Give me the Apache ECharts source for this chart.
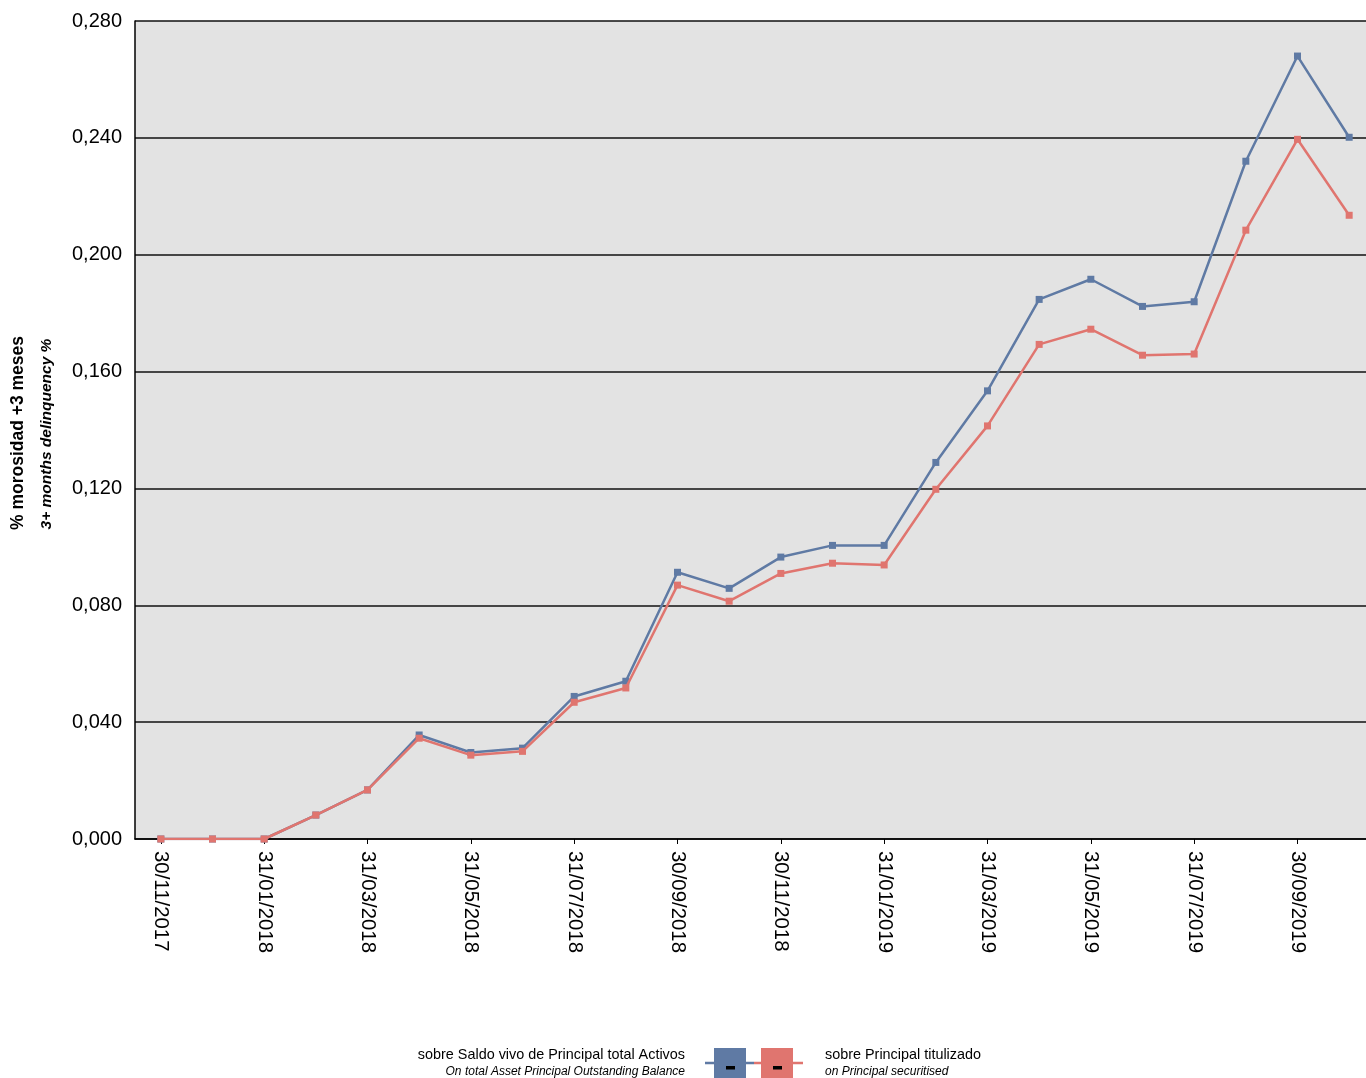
<!DOCTYPE html>
<html>
<head>
<meta charset="utf-8">
<script src="https://cdn.jsdelivr.net/npm/echarts@6/dist/echarts.min.js"></script>
<style>
html,body{margin:0;padding:0;background:#fff;overflow:hidden;}
#chart{width:1380px;height:1078px;}
</style>
</head>
<body>
<div id="chart"></div>
<script>
const categories = ['30/11/2017','31/12/2017','31/01/2018','28/02/2018','31/03/2018','30/04/2018','31/05/2018','30/06/2018','31/07/2018','31/08/2018','30/09/2018','31/10/2018','30/11/2018','31/12/2018','31/01/2019','28/02/2019','31/03/2019','30/04/2019','31/05/2019','30/06/2019','31/07/2019','31/08/2019','30/09/2019','31/10/2019'];
const totalActivos = [0,0,0,0.0082,0.0168,0.0356,0.0296,0.0311,0.0488,0.0540,0.0913,0.0858,0.0965,0.1005,0.1005,0.1289,0.1534,0.1847,0.1916,0.1823,0.1839,0.2320,0.2680,0.2402];
const titulizado = [0,0,0,0.0082,0.0168,0.0345,0.0287,0.0300,0.0468,0.0517,0.0869,0.0814,0.0909,0.0944,0.0938,0.1197,0.1414,0.1693,0.1745,0.1656,0.1660,0.2084,0.2395,0.2135];
const seriesNames = ['sobre Saldo vivo de Principal total Activos','sobre Principal titulizado'];
const seriesNamesEn = ['On total Asset Principal Outstanding Balance','on Principal securitised'];
const yTitle = '% morosidad +3 meses';
const yTitleEn = '3+ months delinquency %';

const BLUE = '#5f7aa4';
const RED = '#e0756f';
const FONT = '"Liberation Sans", Arial, sans-serif';

const chart = echarts.init(document.getElementById('chart'));
chart.setOption({
  animation: false,
  grid: {
    left: 135, top: 21, width: 1240, height: 818,
    show: true, backgroundColor: '#e3e3e3', borderWidth: 0
  },
  xAxis: {
    type: 'category',
    data: categories,
    boundaryGap: true,
    axisLine: { show: true, lineStyle: { color: '#000', width: 1.5 } },
    axisTick: { show: true, interval: 1, alignWithLabel: true, length: 5, lineStyle: { color: '#000', width: 1 } },
    axisLabel: { interval: 1, rotate: -90, margin: 12, color: '#000', fontSize: 20.4, fontFamily: FONT },
    splitLine: { show: false }
  },
  yAxis: {
    type: 'value',
    min: 0, max: 0.28, interval: 0.04,
    axisLine: { show: true, lineStyle: { color: '#000', width: 1.5 } },
    axisTick: { show: false },
    axisLabel: {
      margin: 13, color: '#000', fontSize: 20, fontFamily: FONT,
      formatter: v => v.toFixed(3).replace('.', ',')
    },
    splitLine: { show: true, lineStyle: { color: '#111', width: 1.5 } }
  },
  series: [
    {
      name: seriesNames[0], type: 'line', data: totalActivos,
      symbol: 'rect', symbolSize: 7, showSymbol: true,
      itemStyle: { color: BLUE }, lineStyle: { color: BLUE, width: 2.5 }, z: 2
    },
    {
      name: seriesNames[1], type: 'line', data: titulizado,
      symbol: 'rect', symbolSize: 7, showSymbol: true,
      itemStyle: { color: RED }, lineStyle: { color: RED, width: 2.5 }, z: 3
    }
  ],
  graphic: [
    { type: 'text', x: 18, y: 433, rotation: Math.PI / 2,
      style: { text: yTitle, font: 'bold 17.5px ' + FONT, fill: '#000', align: 'center', verticalAlign: 'middle' } },
    { type: 'text', x: 47, y: 434, rotation: Math.PI / 2,
      style: { text: yTitleEn, font: 'italic bold 15.5px ' + FONT, fill: '#000', align: 'center', verticalAlign: 'middle' } },
    { type: 'line', shape: { x1: 705, y1: 1063, x2: 754, y2: 1063 }, style: { stroke: BLUE, lineWidth: 2.5 } },
    { type: 'line', shape: { x1: 754, y1: 1063, x2: 803, y2: 1063 }, style: { stroke: RED, lineWidth: 2.5 } },
    { type: 'rect', shape: { x: 714, y: 1048, width: 32, height: 30 }, style: { fill: BLUE } },
    { type: 'rect', shape: { x: 761, y: 1048, width: 32, height: 30 }, style: { fill: RED } },
    { type: 'rect', shape: { x: 726, y: 1066, width: 9, height: 3.5 }, style: { fill: '#000' } },
    { type: 'rect', shape: { x: 773, y: 1066, width: 9, height: 3.5 }, style: { fill: '#000' } },
    { type: 'text', x: 685, y: 1055,
      style: { text: seriesNames[0], font: '14.4px ' + FONT, fill: '#000', align: 'right', verticalAlign: 'middle' } },
    { type: 'text', x: 685, y: 1072,
      style: { text: seriesNamesEn[0], font: 'italic 12px ' + FONT, fill: '#000', align: 'right', verticalAlign: 'middle' } },
    { type: 'text', x: 825, y: 1055,
      style: { text: seriesNames[1], font: '14.4px ' + FONT, fill: '#000', align: 'left', verticalAlign: 'middle' } },
    { type: 'text', x: 825, y: 1072,
      style: { text: seriesNamesEn[1], font: 'italic 12px ' + FONT, fill: '#000', align: 'left', verticalAlign: 'middle' } }
  ]
});
</script>
</body>
</html>
